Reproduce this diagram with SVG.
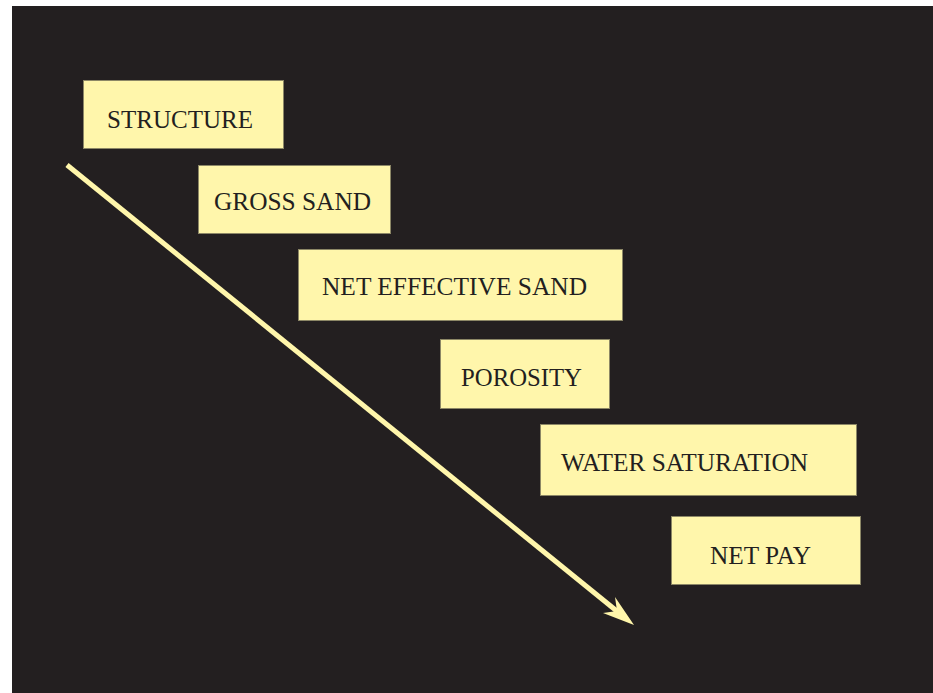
<svg xmlns="http://www.w3.org/2000/svg" width="933" height="693" viewBox="0 0 933 693">
<style>
.box{fill:#fff6ab;stroke:#8c8766;stroke-width:1}
.lbl{font-family:"Liberation Serif","Times New Roman",serif;font-size:25.4px;fill:#231f20}
.conn{stroke:#fff6ab;stroke-width:5;fill:none}
</style>
<rect x="0" y="0" width="933" height="693" fill="#ffffff"/>
<rect x="12" y="6" width="921" height="687" fill="#231f20"/>
<g id="node-structure"><rect class="box" x="83.5" y="80.5" width="200" height="68"/><text class="lbl" x="107" y="128" textLength="146" lengthAdjust="spacingAndGlyphs">STRUCTURE</text></g>
<g id="node-gross-sand"><rect class="box" x="198.5" y="165.5" width="192" height="68"/><text class="lbl" x="214" y="210" textLength="157" lengthAdjust="spacingAndGlyphs">GROSS SAND</text></g>
<g id="node-net-effective-sand"><rect class="box" x="298.5" y="249.5" width="324" height="71"/><text class="lbl" x="322" y="295" textLength="265" lengthAdjust="spacingAndGlyphs">NET EFFECTIVE SAND</text></g>
<g id="node-porosity"><rect class="box" x="440.5" y="339.5" width="169" height="69"/><text class="lbl" x="461" y="386" textLength="121" lengthAdjust="spacingAndGlyphs">POROSITY</text></g>
<g id="node-water-saturation"><rect class="box" x="540.5" y="424.5" width="316" height="71"/><text class="lbl" x="561" y="471" textLength="247" lengthAdjust="spacingAndGlyphs">WATER SATURATION</text></g>
<g id="node-net-pay"><rect class="box" x="671.5" y="516.5" width="189" height="68"/><text class="lbl" x="710" y="564" textLength="101" lengthAdjust="spacingAndGlyphs">NET PAY</text></g>
<g id="connectors">
<line class="conn" x1="67" y1="165" x2="618" y2="612"/>
<polygon points="634,625 615,597 617,611 603,613" fill="#fff6ab"/>
</g>
</svg>
